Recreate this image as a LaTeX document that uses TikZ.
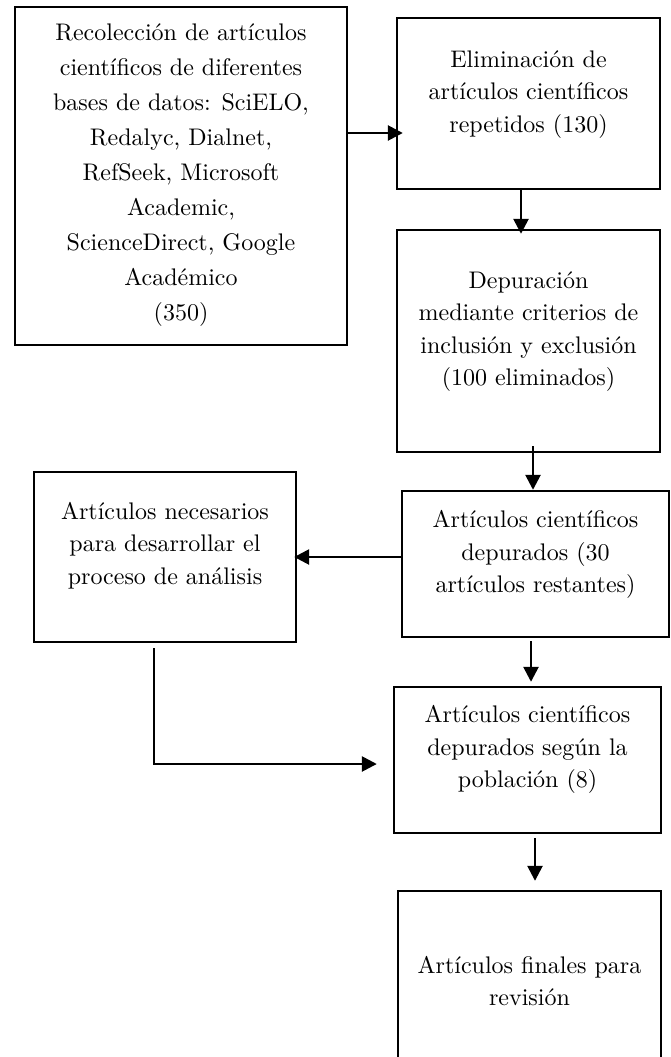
\documentclass[tikz,border=0pt]{standalone}
\usepackage{fontspec}
\setmainfont{lmroman10-regular.otf}
\usetikzlibrary{arrows.meta}
\begin{document}
\begin{tikzpicture}[x=1pt,y=-1pt,
  box/.style={draw, line width=2.4pt, inner sep=0pt},
  txt/.style={align=center, font=\fontsize{24}{32.5}\selectfont, inner sep=0pt},
  arr/.style={line width=2.6pt, -{Triangle[length=15pt,width=15pt]}}]
\useasboundingbox (0,0) rectangle (671,1057);
\clip (0,0) rectangle (671,1057);
% boxes
\node[box, minimum width=332pt, minimum height=338pt] (n1) at (181,176) {};
\node[box, minimum width=263pt, minimum height=171pt] (n2) at (528.5,103.5) {};
\node[box, minimum width=263pt, minimum height=222pt] (n3) at (528.5,341) {};
\node[box, minimum width=267pt, minimum height=146pt] (n4) at (535.5,564) {};
\node[box, minimum width=262pt, minimum height=170pt] (n5) at (165,557) {};
\node[box, minimum width=267pt, minimum height=146pt] (n6) at (527.5,760) {};
\node[box, minimum width=263pt, minimum height=190pt] (n7) at (529.5,986) {};
% texts
\node[txt, font=\fontsize{24}{35}\selectfont] (t1) at (181,175) {Recolección de artículos\\científicos de diferentes\\bases de datos: SciELO,\\Redalyc, Dialnet,\\RefSeek, Microsoft\\Academic,\\ScienceDirect, Google\\Académico\\(350)};
\node[txt] (t2) at (528.5,94.5) {Eliminación de\\artículos científicos\\repetidos (130)};
\node[txt] (t3) at (528.5,331.5) {Depuración\\mediante criterios de\\inclusión y exclusión\\(100 eliminados)};
\node[txt] (t4) at (535.5,554.5) {Artículos científicos\\depurados (30\\artículos restantes)};
\node[txt] (t5) at (165,545.5) {Artículos necesarios\\para desarrollar el\\proceso de análisis};
\node[txt] (t6) at (527.5,749.5) {Artículos científicos\\depurados según la\\población (8)};
\node[txt] (t7) at (529.5,981) {Artículos finales para\\revisión};
% connectors
\draw[arr, shorten >=-7pt] ([yshift=43pt]n1.east) -- ([yshift=-29.5pt]n2.west);
\draw[arr, shorten >=-5pt] ([xshift=-7.5pt]n2.south) -- ([xshift=-7.5pt]n3.north);
\draw[arr, shorten <=-7pt] ([xshift=4.5pt]n3.south) -- ([xshift=-2.5pt]n4.north);
\draw[arr, shorten >=-3pt] ([yshift=7pt]n4.west) -- (n5.east);
\draw[arr, shorten <=3pt, shorten >=4pt] ([xshift=-4.5pt]n4.south) -- ([xshift=3.5pt]n6.north);
\draw[arr, shorten <=4pt, shorten >=9pt] ([xshift=7.5pt]n6.south) -- ([xshift=5.5pt]n7.north);
\coordinate (c5) at ([xshift=-11pt]n5.south);
\coordinate (e6) at ([yshift=-4pt]n6.west);
\draw[line width=1.3pt, shorten <=5pt] (c5) -- (c5 |- e6);
\draw[arr, shorten >=16pt] ([xshift=-0.65pt]c5 |- e6) -- (e6);
\end{tikzpicture}
\end{document}
